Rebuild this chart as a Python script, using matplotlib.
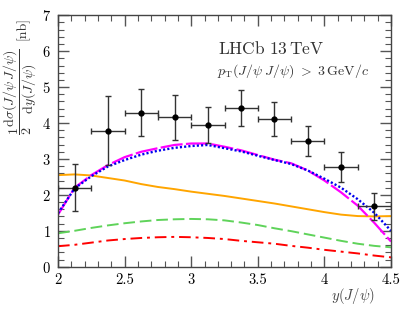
import numpy as np
import matplotlib
matplotlib.use("Agg")
import matplotlib.pyplot as plt
from matplotlib.ticker import MultipleLocator

plt.rcParams['font.family'] = 'serif'
plt.rcParams['font.serif'] = ['cmr10', 'DejaVu Serif']
plt.rcParams['mathtext.fontset'] = 'cm'
plt.rcParams['axes.formatter.use_mathtext'] = True

# ---- data ----
data_x = [2.125, 2.375, 2.625, 2.875, 3.125, 3.375, 3.625, 3.875, 4.125, 4.375]
data_y = [2.20, 3.79, 4.29, 4.16, 3.95, 4.43, 4.11, 3.51, 2.78, 1.68]
data_yerr = [0.65, 0.95, 0.65, 0.62, 0.50, 0.50, 0.48, 0.42, 0.42, 0.38]
data_xerr = [0.125] * 10

model_x = [2.0, 2.125, 2.25, 2.375, 2.5, 2.625, 2.75, 2.875, 3.0, 3.125, 3.25,
           3.375, 3.5, 3.625, 3.75, 3.875, 4.0, 4.125, 4.25, 4.375, 4.5]
magenta_y = [1.45, 2.20, 2.55, 2.83, 3.05, 3.20, 3.30, 3.39, 3.43, 3.43, 3.34,
             3.24, 3.11, 2.98, 2.88, 2.68, 2.40, 2.07, 1.70, 1.22, 0.70]
blue_y = [1.49, 2.18, 2.52, 2.79, 2.97, 3.12, 3.23, 3.31, 3.36, 3.39, 3.30,
          3.21, 3.09, 2.97, 2.86, 2.68, 2.45, 2.20, 1.88, 1.50, 1.00]
orange_y = [2.55, 2.57, 2.54, 2.47, 2.40, 2.30, 2.22, 2.16, 2.09, 2.03, 1.97,
            1.90, 1.83, 1.76, 1.68, 1.60, 1.52, 1.45, 1.41, 1.40, 1.41]
green_y = [0.93, 1.00, 1.08, 1.15, 1.21, 1.26, 1.30, 1.32, 1.33, 1.32, 1.29,
           1.23, 1.16, 1.07, 0.99, 0.90, 0.81, 0.72, 0.64, 0.58, 0.54]
red_y = [0.57, 0.61, 0.67, 0.73, 0.77, 0.80, 0.82, 0.83, 0.82, 0.80, 0.77,
         0.72, 0.68, 0.64, 0.58, 0.53, 0.47, 0.42, 0.37, 0.31, 0.26]

xticks = [2.0, 2.5, 3.0, 3.5, 4.0, 4.5]
xtick_labels = ['2', '2.5', '3', '3.5', '4', '4.5']
yticks = [0, 1, 2, 3, 4, 5, 6, 7]

# ---- figure ----
fig = plt.figure(figsize=(4.12, 3.18), dpi=100)
ax = fig.add_axes([58/412, 1-266.7/318, (391-58)/412, (266.7-15.3)/318])

ax.plot(model_x, orange_y, color='#ffa500', lw=1.4, solid_capstyle='butt')
ax.plot(model_x, green_y, color='#5fd35a', lw=1.4, dashes=(6, 2.5))
ax.plot(model_x, red_y, color='#ff0000', lw=1.4, dashes=(6, 2.5, 1.5, 2.5))
ax.plot(model_x, magenta_y, color='#ff00ff', lw=1.6, dashes=(10, 1.5))
ax.plot(model_x, blue_y, color='#0000ee', lw=1.7, dashes=(0.9, 0.9))

ax.errorbar(data_x, data_y, xerr=data_xerr, yerr=data_yerr, fmt='o',
            color='black', ecolor='#333333', elinewidth=1.0, capsize=2.5,
            capthick=1.0, markersize=3.5, zorder=5)

ax.set_xlim(2, 4.5)
ax.set_ylim(0, 7)
ax.set_xticks(xticks)
ax.set_xticklabels(xtick_labels)
ax.set_yticks(yticks)
ax.xaxis.set_minor_locator(MultipleLocator(0.1))
ax.yaxis.set_minor_locator(MultipleLocator(0.2))
ax.tick_params(which='both', direction='in', top=True, right=True,
               color='#555555', labelsize=10.5, pad=5)
ax.tick_params(which='major', length=8, width=1.0)
ax.tick_params(which='minor', length=4, width=0.8)
for s in ax.spines.values():
    s.set_color('#444444')
    s.set_linewidth(1.0)

ax.text(218, 318-48, r'$\mathrm{LHCb\ 13\,TeV}$', transform=None,
        fontsize=12.5, ha='left', va='center', color='#333333')
ax.text(217, 318-71,
        r'$p_{\mathrm{T}}(J/\psi\;J/\psi)\ >\ 3\,\mathrm{GeV}/c$',
        transform=None, fontsize=10, ha='left', va='center', color='#333333')

fig.text(20/412, 1-92/318,
         r'$\dfrac{1}{2}\dfrac{\mathrm{d}\sigma(J/\psi\,J/\psi)}{\mathrm{d}y(J/\psi)}$',
         rotation=90, ha='center', va='center', fontsize=10, color='#333333')
fig.text(23/412, 1-28/318, r'[nb]', rotation=90, ha='center', va='center',
         fontsize=10, color='#333333')
fig.text(353/412, 1-296/318, r'$y(J/\psi)$', ha='center', va='center',
         fontsize=10.5, color='#444444')

fig.savefig('out.png', dpi=100)
